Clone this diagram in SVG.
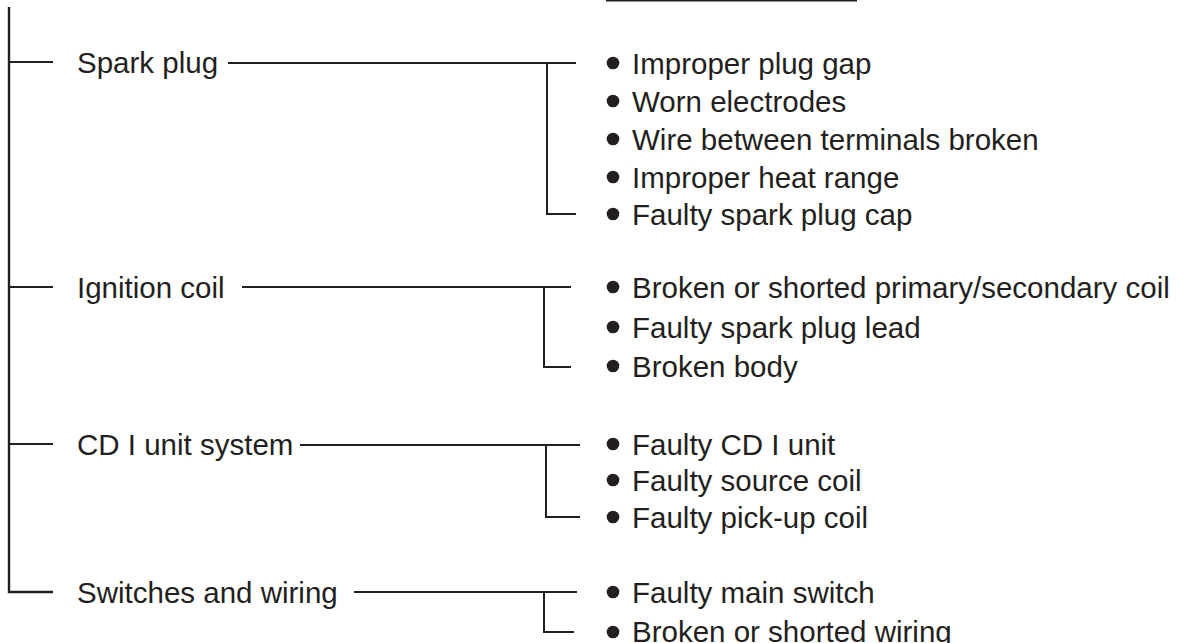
<svg xmlns="http://www.w3.org/2000/svg" width="1184" height="643" viewBox="0 0 1184 643">
<style>
text{font-family:"Liberation Sans",Arial,sans-serif;font-size:29.5px;fill:#231f20}
.ln{stroke:#231f20;stroke-width:2;fill:none}
.tr{stroke:#231f20;stroke-width:2.4;fill:none}
.b{fill:#231f20}
</style>
<rect width="1184" height="643" fill="#fff"/>
<g id="connectors">
<line class="ln" x1="606" y1="0.5" x2="857" y2="0.5"/>
<polyline class="tr" points="9,7 9,592 53,592"/>
<line class="ln" x1="9" y1="62" x2="53" y2="62"/>
<line class="ln" x1="9" y1="287" x2="53" y2="287"/>
<line class="ln" x1="9" y1="444" x2="53" y2="444"/>
<line class="ln" x1="228" y1="63" x2="576" y2="63"/>
<polyline class="ln" points="547,63 547,214 576,214"/>
<line class="ln" x1="242" y1="287" x2="571" y2="287"/>
<polyline class="ln" points="544,287 544,367 571,367"/>
<line class="ln" x1="300" y1="445" x2="580" y2="445"/>
<polyline class="ln" points="546,445 546,517 580,517"/>
<line class="ln" x1="354" y1="592" x2="577" y2="592"/>
<polyline class="ln" points="544,592 544,632 574,632"/>
</g>
<g id="spark-plug">
<text x="77" y="73">Spark plug</text>
</g>
<g id="spark-plug-causes">
<circle class="b" cx="613" cy="63" r="6.3"/><text x="632" y="74">Improper plug gap</text>
<circle class="b" cx="613" cy="101" r="6.3"/><text x="632" y="112">Worn electrodes</text>
<circle class="b" cx="613" cy="139" r="6.3"/><text x="632" y="150">Wire between terminals broken</text>
<circle class="b" cx="613" cy="177" r="6.3"/><text x="632" y="188">Improper heat range</text>
<circle class="b" cx="613" cy="214" r="6.3"/><text x="632" y="225">Faulty spark plug cap</text>
</g>
<g id="ignition-coil">
<text x="77" y="298">Ignition coil</text>
</g>
<g id="ignition-coil-causes">
<circle class="b" cx="613" cy="287" r="6.3"/><text x="632" y="298">Broken or shorted primary/secondary coil</text>
<circle class="b" cx="613" cy="327" r="6.3"/><text x="632" y="338">Faulty spark plug lead</text>
<circle class="b" cx="613" cy="366" r="6.3"/><text x="632" y="377">Broken body</text>
</g>
<g id="cdi-unit-system">
<text x="77" y="455">CD I unit system</text>
</g>
<g id="cdi-causes">
<circle class="b" cx="613" cy="444" r="6.3"/><text x="632" y="455">Faulty CD I unit</text>
<circle class="b" cx="613" cy="480" r="6.3"/><text x="632" y="491">Faulty source coil</text>
<circle class="b" cx="613" cy="517" r="6.3"/><text x="632" y="528">Faulty pick-up coil</text>
</g>
<g id="switches-wiring">
<text x="77" y="603">Switches and wiring</text>
</g>
<g id="switches-causes">
<circle class="b" cx="613" cy="592" r="6.3"/><text x="632" y="603">Faulty main switch</text>
<circle class="b" cx="613" cy="632" r="6.3"/><text x="632" y="642">Broken or shorted wiring</text>
</g>
</svg>
